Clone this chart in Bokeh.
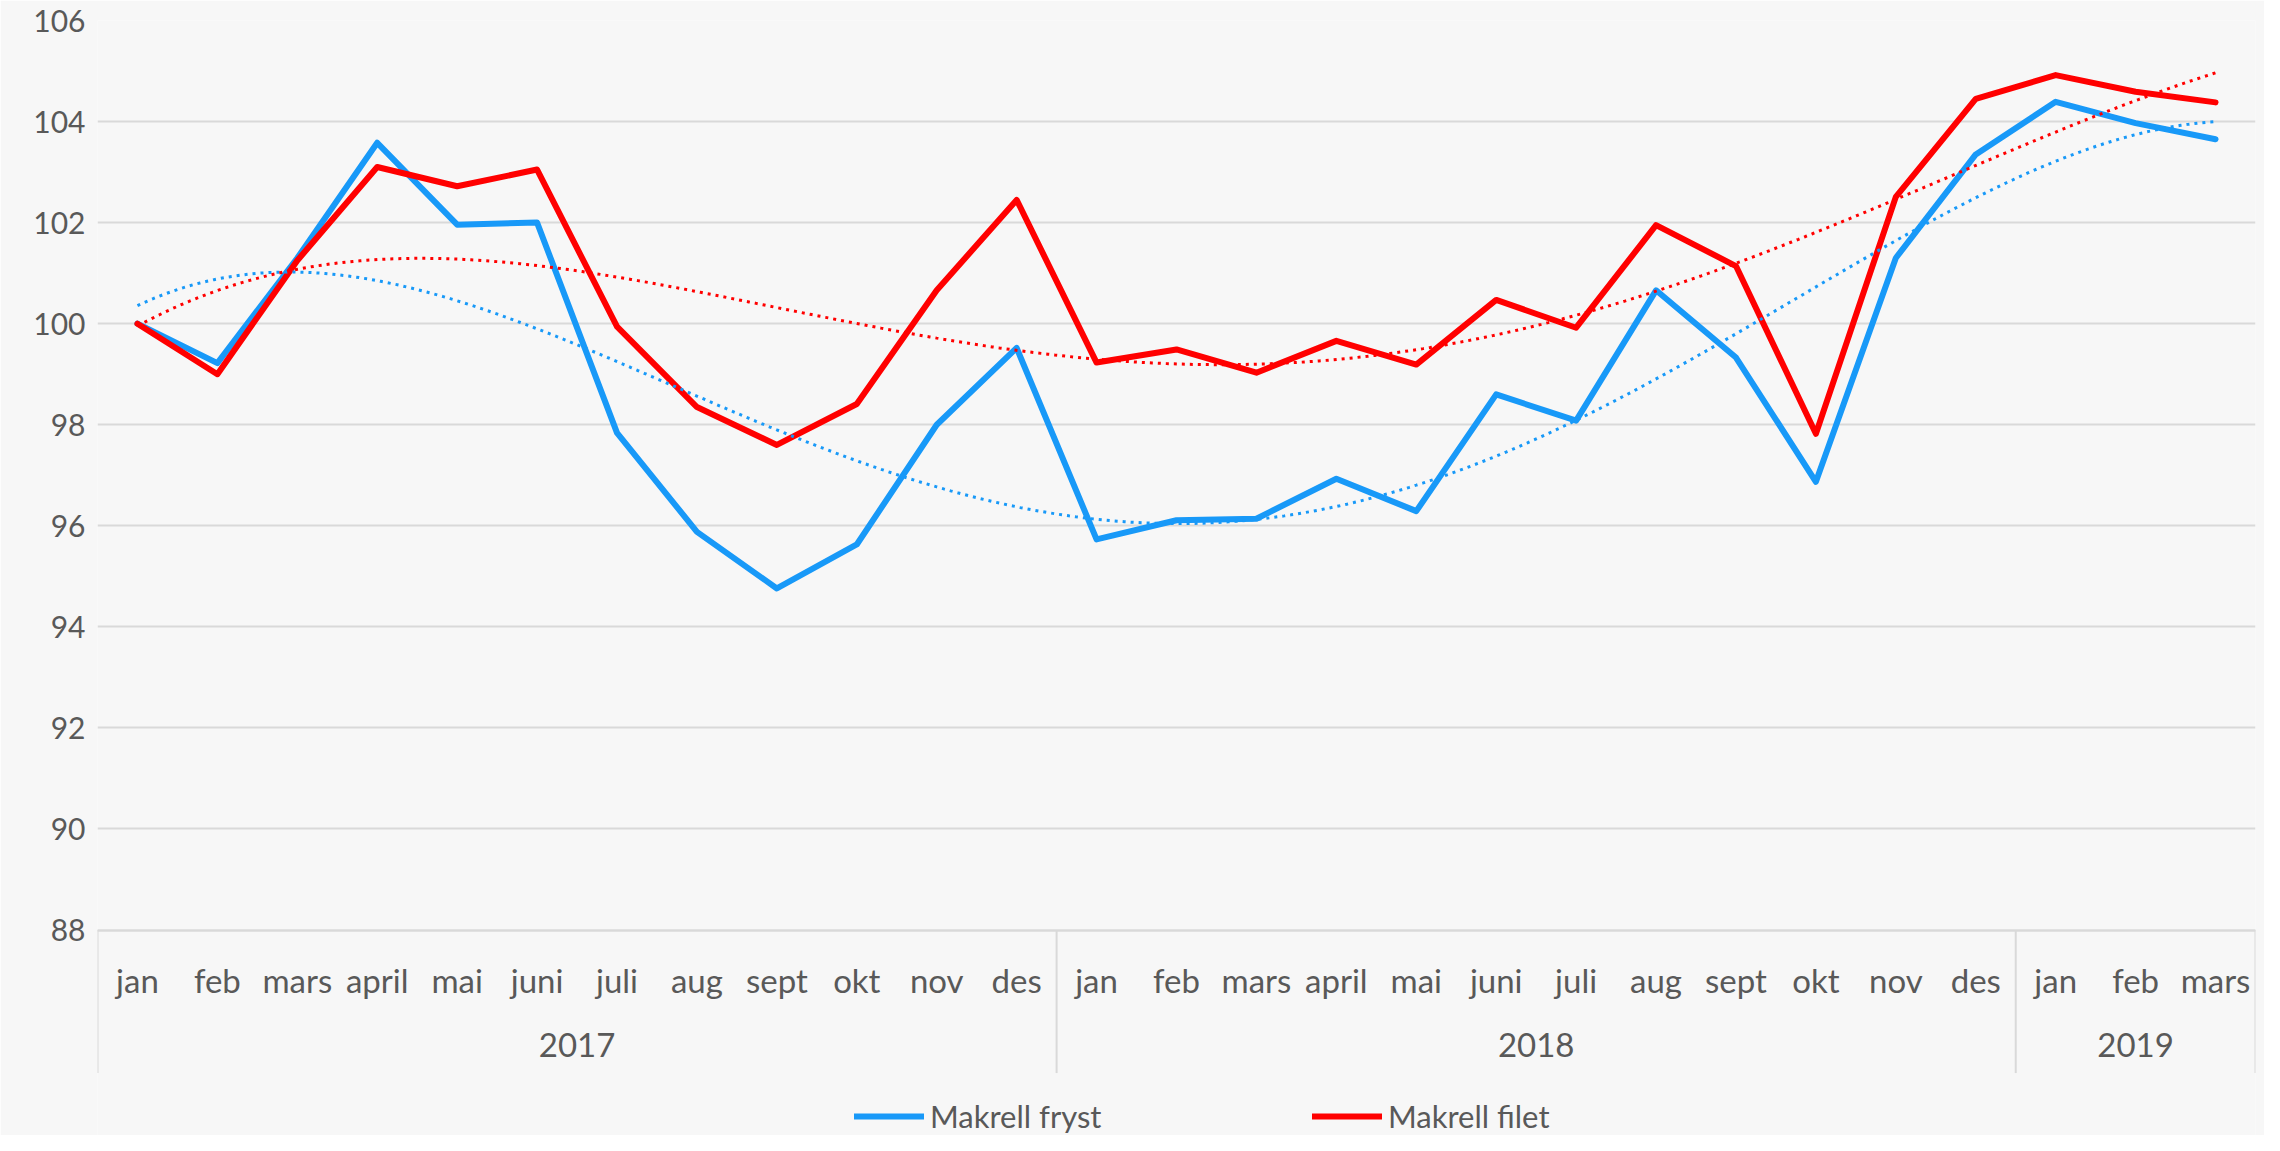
import numpy as np
from bokeh.plotting import figure
from bokeh.models import FactorRange, Range1d, Legend, LegendItem, FixedTicker
from bokeh.embed import file_html
from bokeh.resources import INLINE

# ---- data ----
years = ["2017"] * 12 + ["2018"] * 12 + ["2019"] * 3
months = ["jan", "feb", "mars", "april", "mai", "juni", "juli", "aug", "sept", "okt", "nov", "des",
          "jan", "feb", "mars", "april", "mai", "juni", "juli", "aug", "sept", "okt", "nov", "des",
          "jan", "feb", "mars"]
makrell_fryst = [100.0, 99.22, 101.3, 103.58, 101.96, 102.0, 97.84, 95.88, 94.76, 95.63, 98.0, 99.52,
                 95.73, 96.11, 96.14, 96.93, 96.29, 98.60, 98.08, 100.66, 99.33, 96.87, 101.30, 103.35,
                 104.39, 103.97, 103.65]
makrell_filet = [100.0, 99.0, 101.25, 103.10, 102.72, 103.05, 99.94, 98.35, 97.60, 98.41, 100.66, 102.45,
                 99.23, 99.49, 99.03, 99.66, 99.19, 100.47, 99.92, 101.95, 101.14, 97.82, 102.51, 104.45,
                 104.92, 104.59, 104.38]
y_ticks = [88, 90, 92, 94, 96, 98, 100, 102, 104, 106]
TREND_ORDER = 4  # polynomial trendline (as in the original spreadsheet chart)

BLUE = "#1899F8"
RED = "#FF0000"
TEXT = "#595959"
GRID = "#D9D9D9"
BG = "#F7F7F7"
FONT = "Lato"

# ---- layout (pixels) ----
W, H = 2264, 1135
TOP, LEFT, RIGHT = 20, 97, 9
FRAME_BOTTOM_PX = 1127   # effective bottom of the plot frame
Y_AXIS_PX = 923          # where the value 88 (the x axis) sits
SEP_DEPTH_PX = 142       # depth of the group separator lines below the axis
y_min, y_max = y_ticks[0], y_ticks[-1]
ppu = (Y_AXIS_PX - TOP) / (y_max - y_min)
y_start = y_min - (FRAME_BOTTOM_PX - Y_AXIS_PX) / ppu
sep_bottom = y_min - SEP_DEPTH_PX / ppu

factors = list(zip(years, months))

p = figure(
    x_range=FactorRange(*factors, factor_padding=0, group_padding=0, subgroup_padding=0, range_padding=0),
    y_range=Range1d(y_start, y_max),
    width=W, height=H,
    output_backend="svg", toolbar_location=None,
    min_border_left=LEFT, min_border_right=RIGHT, min_border_top=TOP, min_border_bottom=0,
)
p.background_fill_color = BG
p.border_fill_color = BG
p.outline_line_color = None

xa = p.xaxis[0]
xa.fixed_location = y_min
xa.major_label_text_font = FONT
xa.major_label_text_font_size = "33px"
xa.major_label_text_color = TEXT
xa.group_text_font = FONT
xa.group_text_font_size = "33px"
xa.group_text_font_style = "normal"
xa.group_text_color = TEXT
xa.major_tick_line_color = None
xa.major_tick_out = 0
xa.minor_tick_line_color = None
xa.axis_line_color = GRID
xa.axis_line_width = 2
xa.separator_line_color = None
xa.major_label_standoff = 30

ya = p.yaxis[0]
ya.ticker = FixedTicker(ticks=y_ticks)
ya.axis_line_color = None
ya.major_tick_line_color = None
ya.major_tick_out = 0
ya.minor_tick_line_color = None
ya.major_label_text_font = FONT
ya.major_label_text_font_size = "30px"
ya.major_label_text_color = TEXT
ya.major_label_standoff = 12

p.xgrid.grid_line_color = None
p.ygrid.ticker = FixedTicker(ticks=y_ticks)
p.ygrid.grid_line_color = GRID
p.ygrid.grid_line_width = 2

# group separators of the two-level category axis (at the edges of each year)
group_edges = []
for k, (yr, mo) in enumerate(factors):
    if k == 0 or yr != factors[k - 1][0]:
        group_edges.append((yr, mo, -0.5))
group_edges.append((factors[-1][0], factors[-1][1], 0.5))
p.segment(x0=group_edges, y0=[y_min] * len(group_edges), x1=group_edges, y1=[sep_bottom] * len(group_edges),
          line_color=GRID, line_width=2)

# series
rb = p.line(factors, makrell_fryst, line_color=BLUE, line_width=6, line_join="round", line_cap="round")
rr = p.line(factors, makrell_filet, line_color=RED, line_width=6, line_join="round", line_cap="round")

# polynomial trendlines fitted to the data, positioned as factor + offset
n = len(factors)
xi = np.arange(n) + 0.5
t = np.linspace(xi[0], xi[-1], 300)
idx = np.clip(np.floor(t).astype(int), 0, n - 1)
trend_x = [(factors[i][0], factors[i][1], float(tt - (i + 0.5))) for i, tt in zip(idx, t)]
for series, col in ((makrell_fryst, BLUE), (makrell_filet, RED)):
    coef = np.polyfit(xi, series, TREND_ORDER)
    p.line(trend_x, np.polyval(coef, t), line_color=col, line_width=3, line_dash="3 5")

legend = Legend(
    items=[LegendItem(label="Makrell fryst", renderers=[rb]),
           LegendItem(label="Makrell filet", renderers=[rr])],
    orientation="horizontal", location=(757, 0),
    padding=0, margin=0, spacing=0,
    glyph_width=70, glyph_height=28, label_width=382, label_height=28, label_standoff=6,
    label_text_font=FONT, label_text_font_size="31px", label_text_color=TEXT,
    background_fill_alpha=0, border_line_color=None,
)
p.add_layout(legend)

open("out.html", "w").write(file_html(p, INLINE))
